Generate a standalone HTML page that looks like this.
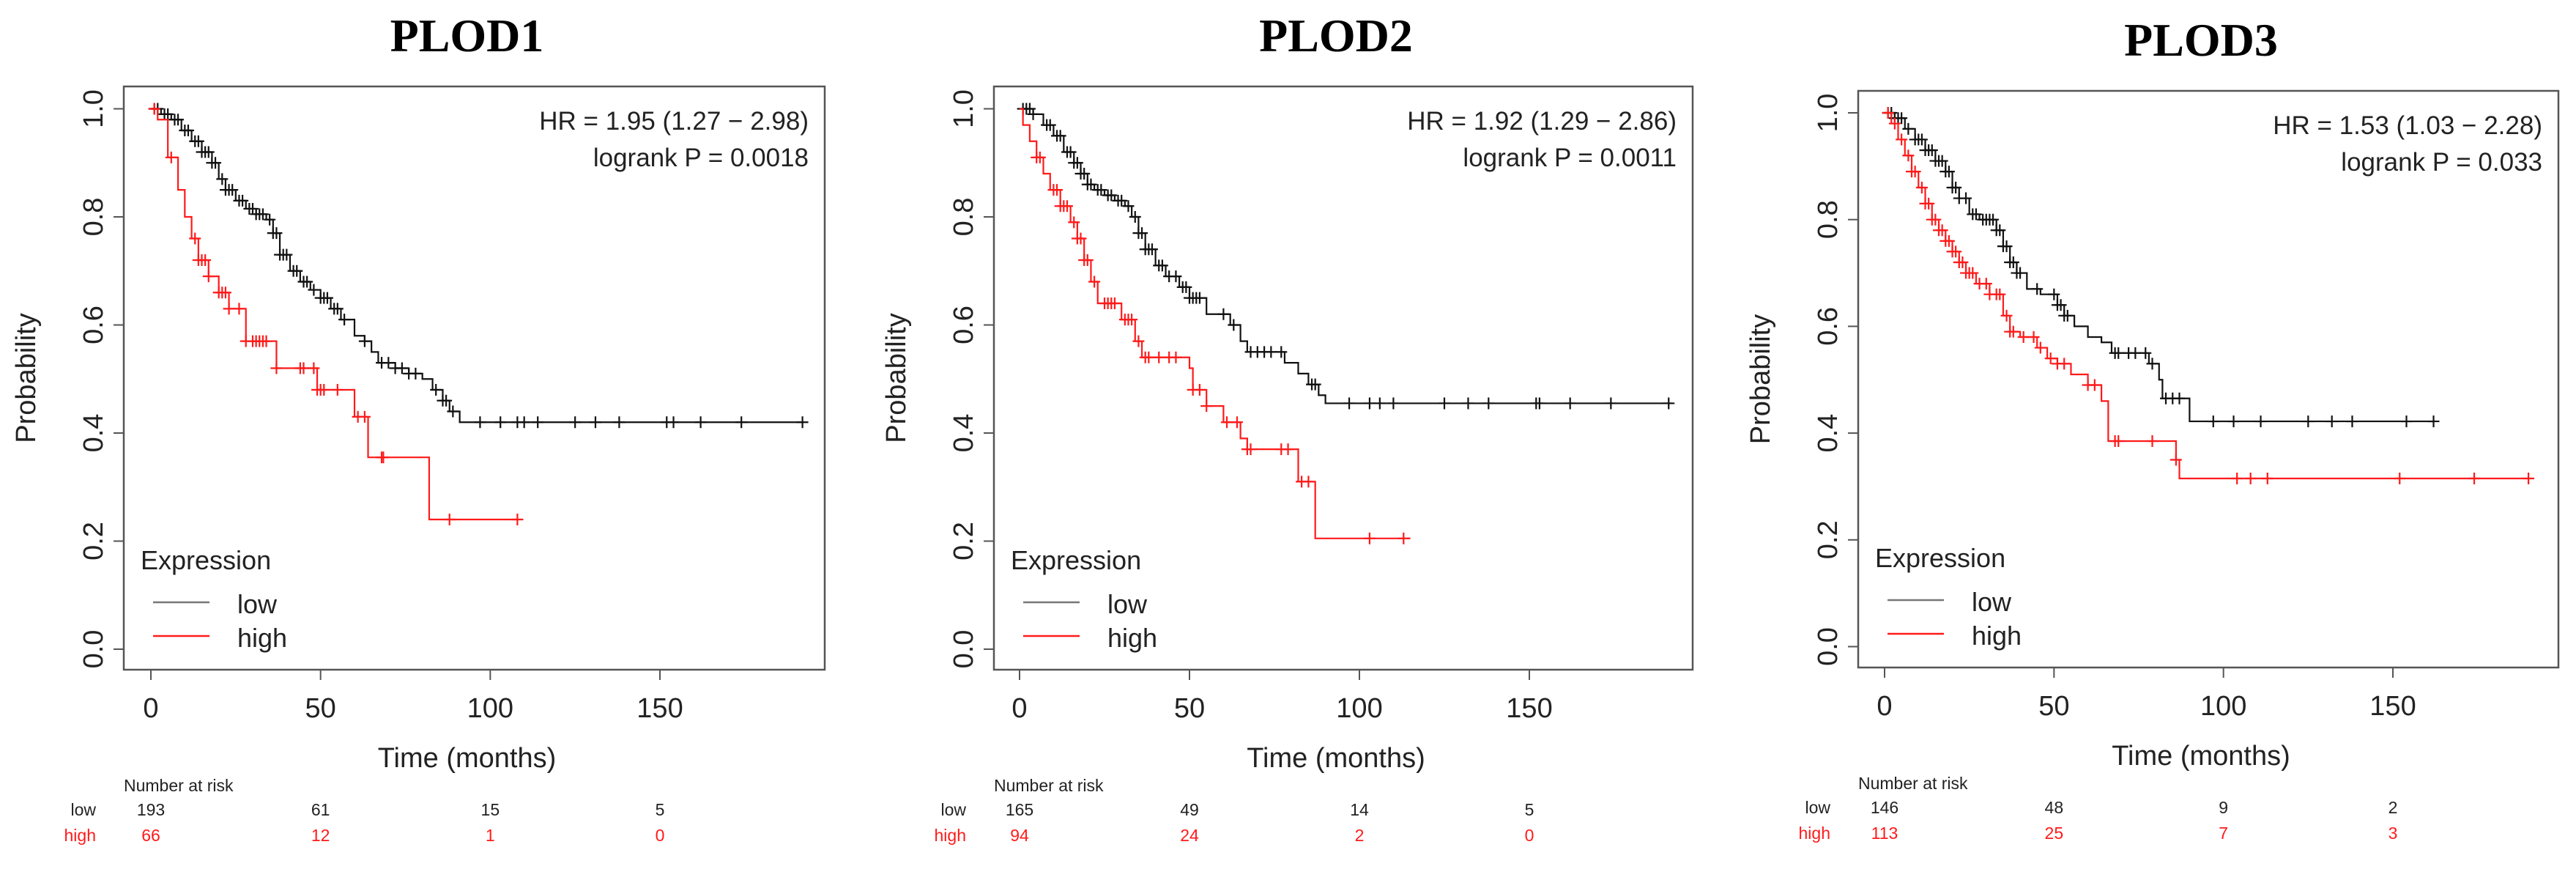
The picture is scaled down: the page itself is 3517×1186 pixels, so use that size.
<!DOCTYPE html>
<html><head><meta charset="utf-8"><style>
html,body{margin:0;padding:0;background:#fff;}
svg{display:block;}
</style></head><body>
<svg id="fig" width="3517" height="1186" viewBox="0 0 3517 1186" xmlns="http://www.w3.org/2000/svg" font-family="'Liberation Sans', Arial, sans-serif"></svg>
<script>
// ---- data (months, survival probability) ----
const p1LowT = [3,6,9,12,15,18,20,22,25,28,31,34,36,38,41,44,47,50,53,56,60,63,65,67,72,76,80,83,86,88,91];
const p1LowS = [0.99,0.98,0.96,0.94,0.92,0.90,0.87,0.85,0.83,0.815,0.805,0.795,0.77,0.73,0.70,0.68,0.665,0.65,0.63,0.61,0.58,0.57,0.55,0.53,0.52,0.51,0.50,0.48,0.46,0.44,0.42];
const p1LowEnd = 192;
const p1LowCens = [1,2,4,5,7,8,10,11,13,14,15,16,17,18,19,21,22,23,24,26,27,29,30,31,32,33,35,36,37,38,39,40,42,43,45,46,48,50,51,52,54,55,57,63,68,70,72,74,76,78,84,86,87,89,97,103,108,110,114,125,131,138,152,154,162,174,192];
const p1HighT = [2,5,8,10,12,14,17,20,23,28,37,49,60,64,82];
const p1HighS = [0.98,0.91,0.85,0.80,0.76,0.72,0.69,0.66,0.63,0.57,0.52,0.48,0.43,0.355,0.24];
const p1HighEnd = 108;
const p1HighCens = [1,6,13,14,15,16,17,20,21,22,23,26,28,30,31,32,33,34,37,44,45,48,49,50,51,55,61,63,68,68.5,88,108];

const p2LowT = [4,7,10,13,16,18,20,22,25,28,31,33,35,37,40,43,47,50,55,62,65,67,78,82,85,88,90];
const p2LowS = [0.99,0.97,0.95,0.92,0.90,0.88,0.86,0.85,0.84,0.83,0.82,0.80,0.77,0.74,0.71,0.69,0.67,0.65,0.62,0.60,0.57,0.55,0.53,0.51,0.49,0.47,0.455];
const p2LowEnd = 192;
const p2LowCens = [1,2,3,4,8,9,11,12,14,15,16,17,18,19,20,21,23,24,26,27,29,30,32,34,35,36,37,38,39,41,42,44,46,48,49,50,51,52,53,60,63,68,70,72,74,77,86,87,97,103,106,110,125,132,138,152,153,162,174,191];
const p2HighT = [1,3,5,7,9,12,15,17,19,21,23,30,34,36,50,51,55,60,65,67,82,87];
const p2HighS = [0.97,0.94,0.91,0.88,0.85,0.82,0.79,0.76,0.72,0.68,0.64,0.61,0.57,0.54,0.52,0.48,0.45,0.42,0.39,0.37,0.31,0.205];
const p2HighEnd = 115;
const p2HighCens = [5,6,10,11,12,13,14,16,17,18,19,20,22,25,26,27,28,31,32,33,35,37,38,41,44,46,51,53,55,61,64,67,68,77,79,83,85,103,113];

const p3LowT = [3,6,9,12,15,18,20,22,25,28,33,35,37,39,42,46,51,53,56,60,64,67,78,81,82,90];
const p3LowS = [0.99,0.97,0.95,0.93,0.91,0.89,0.86,0.84,0.81,0.80,0.78,0.75,0.72,0.70,0.67,0.66,0.64,0.62,0.60,0.58,0.57,0.55,0.53,0.50,0.465,0.422];
const p3LowEnd = 162;
const p3LowCens = [1,2,3,4,5,7,9,10,11,12,13,14,15,16,17,18,19,20,21,22,24,26,27,29,30,31,32,33,34,35,36,37,38,39,40,45,50,51,52,53,54,68,69,72,74,77,79,83,85,87,97,103,111,125,132,138,154,162];
const p3HighT = [2,4,6,8,10,12,14,16,18,20,22,24,27,31,35,37,40,45,48,51,55,60,64,66,86,87];
const p3HighS = [0.98,0.95,0.92,0.89,0.86,0.83,0.80,0.78,0.76,0.74,0.72,0.70,0.68,0.66,0.62,0.59,0.58,0.56,0.54,0.53,0.51,0.49,0.46,0.385,0.35,0.315];
const p3HighEnd = 190;
const p3HighCens = [1,3,5,7,8,9,11,12,13,14,15,16,17,18,19,20,21,22,23,24,25,26,28,30,31,33,34,36,37,38,41,44,46,49,51,53,60,62,68,69,79,86,104,108,113,152,174,190];

const xTicks = [0,50,100,150];
const yTicks = [0,0.2,0.4,0.6,0.8,1.0];
const yTickLabels = ["0.0","0.2","0.4","0.6","0.8","1.0"];

const titles = ["PLOD1","PLOD2","PLOD3"];
const hrText = ["HR = 1.95 (1.27 \u2212 2.98)","HR = 1.92 (1.29 \u2212 2.86)","HR = 1.53 (1.03 \u2212 2.28)"];
const pText = ["logrank P = 0.0018","logrank P = 0.0011","logrank P = 0.033"];
const riskLow = [[193,61,15,5],[165,49,14,5],[146,48,9,2]];
const riskHigh = [[66,12,1,0],[94,24,2,0],[113,25,7,3]];

const panels = [
 {box:[169,118,1126,914], x0:206, x150:901, y1:148.5, y0:886,
  low:[p1LowT,p1LowS,p1LowEnd,p1LowCens], high:[p1HighT,p1HighS,p1HighEnd,p1HighCens]},
 {box:[1357,118,2311,914], x0:1392, x150:2088, y1:148.5, y0:886,
  low:[p2LowT,p2LowS,p2LowEnd,p2LowCens], high:[p2HighT,p2HighS,p2HighEnd,p2HighCens]},
 {box:[2537,124,3493,911], x0:2573, x150:3267, y1:154, y0:882.5,
  low:[p3LowT,p3LowS,p3LowEnd,p3LowCens], high:[p3HighT,p3HighS,p3HighEnd,p3HighCens]}
];

const NS = "http://www.w3.org/2000/svg";
const svg = document.getElementById('fig');
function mk(tag, attrs, parent, text){
  const e = document.createElementNS(NS, tag);
  for (const k in attrs) e.setAttribute(k, attrs[k]);
  if (text !== undefined) e.textContent = text;
  (parent||svg).appendChild(e);
  return e;
}
function survAt(T,S,t){ let s=1; for(let i=0;i<T.length;i++){ if(T[i]<=t) s=S[i]; } return s; }

panels.forEach((P,pi)=>{
  const g = mk('g',{});
  
  
  const X = t => P.x0 + (P.x150-P.x0)*t/150;
  const Y = s => P.y0 + (P.y1-P.y0)*s;
  const [bl,bt,br,bb] = P.box;
  const cx = (bl+br)/2;
  const t = mk('text',{x:cx-10,y:bt-48,'font-family':"'Liberation Serif', serif",'font-weight':'bold','font-size':64,'text-anchor':'middle',fill:'#000'},g,titles[pi]);
  
  
  const fr = mk('rect',{x:bl,y:bt,width:br-bl,height:bb-bt,fill:'none',stroke:'#555','stroke-width':2.5},g);
  
  
  // y axis ticks
  yTicks.forEach((v,i)=>{
    mk('line',{x1:bl-14,x2:bl,y1:Y(v),y2:Y(v),stroke:'#555','stroke-width':2},g);
    const tl = mk('text',{x:0,y:0,'font-size':38,'text-anchor':'middle',fill:'#222',transform:`translate(${bl-29},${Y(v)}) rotate(-90)`},g,yTickLabels[i]);
    
    
  });
  xTicks.forEach(v=>{
    mk('line',{x1:X(v),x2:X(v),y1:bb,y2:bb+14,stroke:'#555','stroke-width':2},g);
    const tl = mk('text',{x:X(v),y:bb+65,'font-size':38,'text-anchor':'middle',fill:'#222'},g,String(v));
    
    
  });
  mk('line',{x1:bl,x2:bl,y1:Y(0),y2:Y(1),stroke:'#555','stroke-width':0},g);
  const yl = mk('text',{x:0,y:0,'font-size':38,'text-anchor':'middle',fill:'#222',transform:`translate(${bl-121},${(bt+bb)/2}) rotate(-90)`},g,'Probability');
  
  
  const xl = mk('text',{x:cx-10,y:bb+133,'font-size':38,'text-anchor':'middle',fill:'#222'},g,'Time (months)');
  
  
  // annotations
  const h1 = mk('text',{x:br-22,y:bt+59,'font-size':35,'text-anchor':'end',fill:'#222'},g,hrText[pi]);
  
  
  const h2 = mk('text',{x:br-22,y:bt+109,'font-size':35,'text-anchor':'end',fill:'#222'},g,pText[pi]);
  
  
  // curves
  [['low',P.low,'#111'],['high',P.high,'#ff1a1a']].forEach(([nm,D,col])=>{
    const [T,S,end,C] = D;
    let d = `M${X(0)},${Y(1)}`; let s=1;
    for(let i=0;i<T.length;i++){ d += ` H${X(T[i])} V${Y(S[i])}`; s=S[i]; }
    d += ` H${X(end)}`;
    const path = mk('path',{d:d,fill:'none',stroke:col,'stroke-width':2.2},g);
    
    
    C.forEach(c=>{
      const cxp = X(c), cyp = Y(survAt(T,S,c));
      const m = mk('path',{d:`M${cxp-8},${cyp} H${cxp+8} M${cxp},${cyp-8} V${cyp+8}`,stroke:col,'stroke-width':2.2},g);
      
      
    });
  });
  // legend
  const lg = mk('g',{},g);
  
  
  mk('text',{x:bl+23,y:bb-137,'font-size':36,fill:'#222'},lg,'Expression');
  mk('line',{x1:bl+40,x2:bl+117,y1:bb-92,y2:bb-92,stroke:'#777','stroke-width':2.5},lg);
  mk('line',{x1:bl+40,x2:bl+117,y1:bb-46,y2:bb-46,stroke:'#ff1a1a','stroke-width':2.5},lg);
  const e1 = mk('text',{x:bl+155,y:bb-77,'font-size':36,fill:'#222'},lg,'low');
  
  
  const e2 = mk('text',{x:bl+155,y:bb-31,'font-size':36,fill:'#222'},lg,'high');
  
  
  // number at risk
  const rt = mk('g',{},g);
  
  
  mk('text',{x:bl,y:bb+166,'font-size':23,fill:'#222'},rt,'Number at risk');
  mk('text',{x:bl-38,y:bb+199,'font-size':23,fill:'#222','text-anchor':'end'},rt,'low');
  mk('text',{x:bl-38,y:bb+234,'font-size':23,fill:'#ff1a1a','text-anchor':'end'},rt,'high');
  xTicks.forEach((v,i)=>{
    mk('text',{x:X(v),y:bb+199,'font-size':23,fill:'#222','text-anchor':'middle'},rt,String(riskLow[pi][i]));
    mk('text',{x:X(v),y:bb+234,'font-size':23,fill:'#ff1a1a','text-anchor':'middle'},rt,String(riskHigh[pi][i]));
  });
});
</script>
</body></html>
